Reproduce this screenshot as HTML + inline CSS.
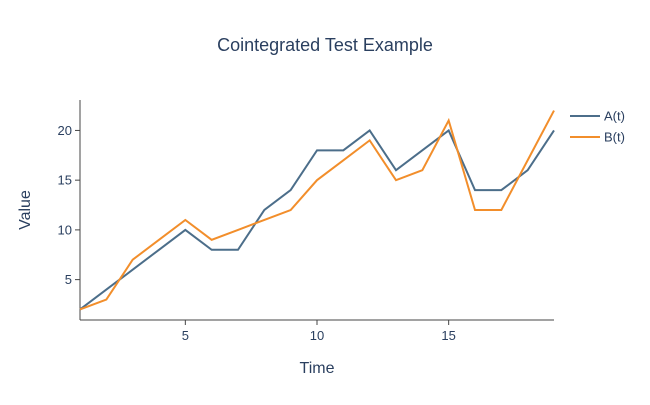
<!DOCTYPE html>
<html><head><meta charset="utf-8"><style>
body{margin:0;background:#fff;font-family:"Liberation Sans",sans-serif}
svg text{font-family:"Liberation Sans",sans-serif;fill:#2a3f5f}
</style></head><body>
<svg id="chart" width="650" height="400">
<text x="325" y="51" font-size="18" text-anchor="middle">Cointegrated Test Example</text>
<g id="axes"></g>
<g id="series"></g>
<text x="317" y="373" font-size="16" text-anchor="middle">Time</text>
<text x="30" y="210" font-size="16" text-anchor="middle" transform="rotate(-90 30 210)">Value</text>
<g id="legend"></g>
</svg>
<script>
const timeValues=[1,2,3,4,5,6,7,8,9,10,11,12,13,14,15,16,17,18,19];
const seriesA=[2,4,6,8,10,8,8,12,14,18,18,20,16,18,20,14,14,16,20];
const seriesB=[2,3,7,9,11,9,10,11,12,15,17,19,15,16,21,12,12,17,22];
const xTicks=[5,10,15];
const yTicks=[5,10,15,20];
const seriesNames=["A(t)","B(t)"];
const colors=["#4c6e8a","#f28e2b"];
const L=80,R=554,T=100,B=320;
const x0=1,x1=19,y0=0.94,y1=23.06;
const sx=v=>L+(v-x0)/(x1-x0)*(R-L);
const sy=v=>B-(v-y0)/(y1-y0)*(B-T);
const NS="http://www.w3.org/2000/svg";
function mk(t,a,p){const e=document.createElementNS(NS,t);for(const k in a)e.setAttribute(k,a[k]);p.appendChild(e);return e;}
const ax=document.getElementById('axes');
let e=mk('line',{x1:L,y1:T,x2:L,y2:B,stroke:'#444','stroke-width':1},ax);


e=mk('line',{x1:L,y1:B,x2:R,y2:B,stroke:'#444','stroke-width':1},ax);


xTicks.forEach(v=>{
 const t=mk('line',{x1:sx(v),y1:B,x2:sx(v),y2:B+5,stroke:'#444'},ax);
 
 
 const l=mk('text',{x:sx(v),y:B+20,'font-size':13,'text-anchor':'middle'},ax);l.textContent=v;
 
 
});
yTicks.forEach(v=>{
 const t=mk('line',{x1:L-5,y1:sy(v),x2:L,y2:sy(v),stroke:'#444'},ax);
 
 
 const l=mk('text',{x:L-8,y:sy(v)+4.5,'font-size':13,'text-anchor':'end'},ax);l.textContent=v;
 
 
});
const sg=document.getElementById('series');
[seriesA,seriesB].forEach((s,i)=>{
 const p=mk('polyline',{points:s.map((v,j)=>sx(timeValues[j])+','+sy(v)).join(' '),fill:'none',stroke:colors[i],'stroke-width':2},sg);
 
 
});
const lg=document.getElementById('legend');
seriesNames.forEach((n,i)=>{
 const y=116+i*21;
 const g=mk('g',{},lg);
 
 
 mk('line',{x1:570,y1:y,x2:600,y2:y,stroke:colors[i],'stroke-width':2},g);
 const t=mk('text',{x:604,y:y+4.5,'font-size':13},g);t.textContent=n;
});
</script>
</body></html>
